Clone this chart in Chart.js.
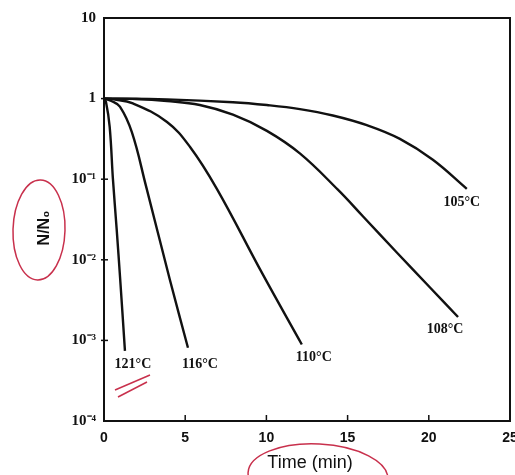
<!DOCTYPE html>
<html>
<head>
<meta charset="utf-8">
<script src="https://cdn.jsdelivr.net/npm/chart.js@4"></script>
<style>
html,body{margin:0;padding:0;background:#fff;}
canvas{display:block;}
</style>
</head>
<body>
<canvas id="c" width="515" height="475"></canvas>
<script>
// ---- data ----
const seriesNames = ['121°C', '116°C', '110°C', '108°C', '105°C'];
const time121 = [0, 0.12, 0.35, 0.55, 0.78, 1.0, 1.29];
const surv121 = [1, 0.912, 0.447, 0.1, 0.024, 0.00562, 0.00074];
const time116 = [0, 0.45, 0.98, 1.72, 2.58, 4.06, 5.17];
const surv116 = [1, 0.933, 0.794, 0.380, 0.0832, 0.00562, 0.00081];
const time110 = [0, 0.6, 1.78, 3.88, 5.3, 6.95, 9.72, 12.18];
const surv110 = [1, 0.977, 0.871, 0.513, 0.251, 0.0759, 0.00692, 0.00089];
const time108 = [0, 2.0, 3.88, 5.9, 7.94, 10.03, 12.06, 14.4, 15.94, 18.03, 20.06, 21.8];
const surv108 = [1, 0.989, 0.933, 0.832, 0.631, 0.398, 0.209, 0.0741, 0.0347, 0.0123, 0.00457, 0.00195];
const time105 = [0, 3.88, 7.94, 10.03, 12.06, 14.09, 16.18, 18.22, 20.25, 22.34];
const surv105 = [1, 0.977, 0.902, 0.832, 0.741, 0.617, 0.468, 0.316, 0.174, 0.0759];
const xTickValues = [0, 5, 10, 15, 20, 25];
const yTickValues = [1e-4, 1e-3, 1e-2, 1e-1, 1, 10];
const yTickLabels = ['10⁻⁴', '10⁻³', '10⁻²', '10⁻¹', '1', '10'];
const xTitle = 'Time (min)';
const yTitle = 'N/N₀';

// label offsets (px) relative to each curve's last point
const labelOffsets = [[8, 13], [12, 17], [12, 13], [-13, 12], [-5, 14]];

const times = [time121, time116, time110, time108, time105];
const survs = [surv121, surv116, surv110, surv108, surv105];

const datasets = seriesNames.map((name, i) => ({
  label: name,
  data: times[i].map((t, j) => ({x: t, y: survs[i][j]})),
  borderColor: '#111',
  borderWidth: 2.4,
  pointRadius: 0,
  fill: false,
  tension: 0.4,
  labelOffset: labelOffsets[i]
}));

const decor = {
  id: 'decor',
  afterDraw(chart) {
    const ctx = chart.ctx;
    const a = chart.chartArea;
    const xs = chart.scales.x, ys = chart.scales.y;
    ctx.save();
    // frame
    ctx.strokeStyle = '#111';
    ctx.lineWidth = 2;
    ctx.strokeRect(a.left, a.top, a.right - a.left, a.bottom - a.top);
    // inward ticks
    ctx.lineWidth = 1.5;
    xTickValues.slice(1, -1).forEach(v => {
      const px = xs.getPixelForValue(v);
      ctx.beginPath(); ctx.moveTo(px, a.bottom); ctx.lineTo(px, a.bottom - 6); ctx.stroke();
    });
    yTickValues.slice(1, -1).forEach(v => {
      const py = ys.getPixelForValue(v);
      ctx.beginPath(); ctx.moveTo(a.left - 3, py); ctx.lineTo(a.left + 4, py); ctx.stroke();
    });
    // curve labels
    ctx.fillStyle = '#111';
    ctx.font = 'bold 14px "Liberation Serif", serif';
    ctx.textAlign = 'center';
    ctx.textBaseline = 'middle';
    chart.data.datasets.forEach((ds, i) => {
      const last = ds.data[ds.data.length - 1];
      const px = xs.getPixelForValue(last.x) + ds.labelOffset[0];
      const py = ys.getPixelForValue(last.y) + ds.labelOffset[1];
      ctx.fillText(ds.label, px, py);
    });
    // axis titles
    ctx.font = 'bold 16px "Liberation Sans", Arial, sans-serif';
    ctx.save();
    ctx.translate(45, 228);
    ctx.rotate(-Math.PI / 2);
    ctx.fillText(yTitle, 0, 0);
    ctx.restore();
    ctx.font = '18px "Liberation Sans", Arial, sans-serif';
    ctx.fillText(xTitle, 310, 463);
    // red hand-drawn annotations
    ctx.strokeStyle = '#c8304c';
    ctx.lineWidth = 1.5;
    ctx.beginPath(); ctx.ellipse(39, 230, 26, 50, 0.03, 0, Math.PI * 2); ctx.stroke();
    ctx.beginPath(); ctx.ellipse(318, 476, 70, 32, 0.05, 0, Math.PI * 2); ctx.stroke();
    ctx.beginPath(); ctx.moveTo(115, 390); ctx.lineTo(150, 375); ctx.stroke();
    ctx.beginPath(); ctx.moveTo(118, 397); ctx.lineTo(147, 382); ctx.stroke();
    ctx.restore();
  }
};

new Chart(document.getElementById('c'), {
  type: 'line',
  data: {datasets},
  options: {
    responsive: false,
    animation: false,
    devicePixelRatio: 1,
    layout: {padding: {left: 0, right: 5, top: 18, bottom: 0}},
    plugins: {legend: {display: false}, tooltip: {enabled: false}},
    scales: {
      x: {
        type: 'linear', min: 0, max: 25,
        grid: {display: false, drawTicks: false},
        border: {display: false},
        afterBuildTicks: s => { s.ticks = xTickValues.map(v => ({value: v})); },
        ticks: {
          color: '#111', padding: 9, autoSkip: false, maxRotation: 0,
          font: {family: '"Liberation Sans", Arial, sans-serif', size: 14, weight: 'bold'}
        },
        afterFit: s => { s.height = 54; s.paddingLeft = 0; s.paddingRight = 0; }
      },
      y: {
        type: 'logarithmic', min: 1e-4, max: 10,
        grid: {display: false, drawTicks: false},
        border: {display: false},
        afterBuildTicks: s => { s.ticks = yTickValues.map(v => ({value: v})); },
        ticks: {
          color: '#111', padding: 8, autoSkip: false,
          font: {family: '"Liberation Serif", serif', size: 15, weight: 'bold'},
          callback: (v) => { const k = yTickValues.indexOf(v); return k >= 0 ? yTickLabels[k] : ''; }
        },
        afterFit: s => { s.width = 104; s.paddingTop = 0; s.paddingBottom = 0; }
      }
    }
  },
  plugins: [decor]
});
</script>
</body>
</html>
